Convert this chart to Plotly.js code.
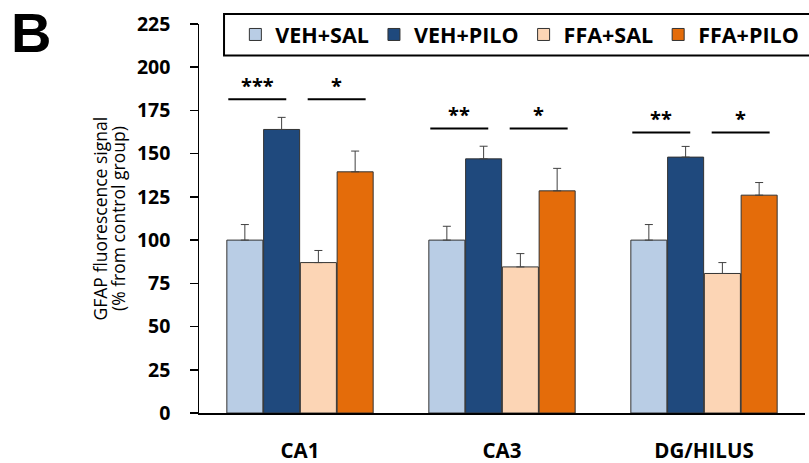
<!DOCTYPE html>
<html>
<head>
<meta charset="utf-8">
<script src="https://cdn.plot.ly/plotly-3.0.1.min.js"></script>
<style>html,body{margin:0;padding:0;background:#fff;}#chart{width:809px;height:463px;}</style>
</head>
<body>
<div id="chart"></div>
<script>
const categories = ['CA1', 'CA3', 'DG/HILUS'];
const seriesNames = ['VEH+SAL', 'VEH+PILO', 'FFA+SAL', 'FFA+PILO'];
const vehSal  = [100, 100, 100];
const vehPilo = [164, 147, 148];
const ffaSal  = [87, 84.5, 80.7];
const ffaPilo = [139.5, 128.5, 126];
const vehSalErr  = [9, 8, 9];
const vehPiloErr = [7, 7.3, 6.2];
const ffaSalErr  = [7, 7.7, 6.3];
const ffaPiloErr = [12, 13, 7.3];
const sigLeftLabels  = ['***', '**', '**'];
const sigRightLabels = ['*', '*', '*'];
const sigLevels = [181.5, 164.6, 162.3];
const yTicks = [0, 25, 50, 75, 100, 125, 150, 175, 200, 225];
const yTitleLines = ['GFAP fluorescence signal', '(% from control group)'];

const colors = ['#B9CDE5', '#1F497D', '#FCD5B5', '#E46C0A'];
const values = [vehSal, vehPilo, ffaSal, ffaPilo];
const errs = [vehSalErr, vehPiloErr, ffaSalErr, ffaPiloErr];
const FONT = 'Open Sans, sans-serif';
const PAD = '\u00a0\u00a0\u00a0';

const traces = seriesNames.map((name, i) => ({
  type: 'bar', name: name, x: categories, y: values[i],
  marker: {color: colors[i], line: {color: '#333333', width: 1}},
  error_y: {type: 'data', symmetric: false, array: errs[i], arrayminus: errs[i].map(() => 0),
            color: '#404040', thickness: 1, width: 4},
  hoverinfo: 'skip'
}));

const shapes = [];
const annotations = [];
const leftSpan = [-0.355, -0.068], rightSpan = [0.038, 0.325];
categories.forEach((c, i) => {
  [[leftSpan, sigLeftLabels[i]], [rightSpan, sigRightLabels[i]]].forEach(([span, lab]) => {
    shapes.push({type: 'line', xref: 'x', yref: 'y', x0: i + span[0], x1: i + span[1],
      y0: sigLevels[i], y1: sigLevels[i], line: {color: '#000', width: 2}});
    annotations.push({xref: 'x', yref: 'y', x: i + (span[0] + span[1]) / 2, y: sigLevels[i],
      text: lab, showarrow: false, yanchor: 'bottom', yshift: -2,
      font: {family: FONT, size: 20, color: '#000', weight: 'bold'}});
  });
});
// legend frame
shapes.push({type: 'rect', xref: 'paper', yref: 'paper', x0: 0.0413, x1: 1.02, y0: 0.919, y1: 1.0257,
  line: {color: '#000', width: 2}, fillcolor: 'rgba(0,0,0,0)', layer: 'above'});
// panel letter
annotations.push({xref: 'paper', yref: 'paper', x: -0.278, y: 1.065, xanchor: 'center', yanchor: 'top',
  text: 'B', showarrow: false, font: {family: 'Liberation Sans, Arial, sans-serif', size: 56, color: '#000', weight: 'bold'}});
// y-axis title, two lines
yTitleLines.forEach((t, k) => {
  annotations.push({xref: 'paper', yref: 'paper', x: 0, xanchor: 'center', xshift: -100 + k * 18.5, y: 0.5,
    yanchor: 'middle', text: t, textangle: -90, showarrow: false,
    font: {family: FONT, size: 17.5, color: '#000'}});
});

const layout = {
  width: 809, height: 463,
  margin: {l: 199, r: 4, t: 24, b: 50, pad: 0, autoexpand: false},
  paper_bgcolor: '#fff', plot_bgcolor: '#fff',
  barmode: 'group', bargap: 0.272, bargroupgap: 0.02,
  showlegend: true,
  legend: {orientation: 'h', x: 0.06, xanchor: 'left', y: 0.973, yanchor: 'middle',
    borderwidth: 0, bgcolor: 'rgba(0,0,0,0)',
    font: {family: FONT, size: 21.5, color: '#000', weight: 'bold'}, traceorder: 'normal'},
  xaxis: {type: 'category', range: [-0.5, 2.5], showline: true, linecolor: '#000', linewidth: 1.5,
    ticks: '', showgrid: false, zeroline: false, ticklabelstandoff: 19, automargin: false,
    tickfont: {family: FONT, size: 20.5, color: '#000', weight: 'bold'}},
  yaxis: {range: [0, 225], tickvals: yTicks, ticktext: yTicks.map(v => String(v) + PAD), showline: true,
    linecolor: '#000', linewidth: 1.5, ticks: 'outside', ticklen: 8, tickwidth: 1.5, tickcolor: '#000',
    showgrid: false, zeroline: false, automargin: false,
    tickfont: {family: FONT, size: 19.5, color: '#000', weight: 'bold'}},
  shapes: shapes, annotations: annotations
};
Plotly.newPlot('chart', traces, layout, {displayModeBar: false, staticPlot: true});
</script>
</body>
</html>
